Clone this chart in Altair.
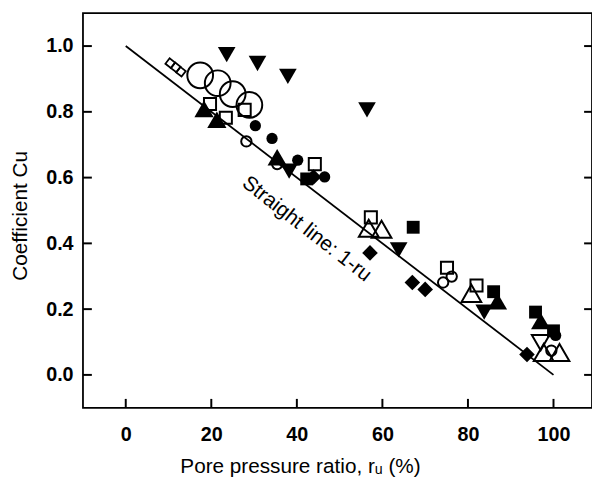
import altair as alt
import pandas as pd

# ---- data ----
fd_tri_x = [23.6, 30.8, 37.9, 56.4, 38.2, 63.8, 83.8]
fd_tri_y = [0.974, 0.947, 0.908, 0.806, 0.620, 0.380, 0.191]

fu_tri_x = [18.3, 21.3, 35.4, 86.9, 97.0]
fu_tri_y = [0.809, 0.776, 0.662, 0.224, 0.164]

ou_tri_x = [56.8, 59.8, 80.8, 97.7, 101.4]
ou_tri_y = [0.446, 0.443, 0.248, 0.068, 0.068]

od_tri_x = [97.0]
od_tri_y = [0.098]

big_circ_x = [17.4, 21.5, 25.0, 28.9]
big_circ_y = [0.911, 0.887, 0.854, 0.821]

small_ocirc_x = [28.2, 35.4, 76.2, 74.2, 99.5]
small_ocirc_y = [0.710, 0.641, 0.299, 0.281, 0.074]

fcirc_x = [30.3, 34.2, 40.2, 46.5, 100.5]
fcirc_y = [0.758, 0.719, 0.653, 0.602, 0.120]

osq_x = [19.7, 23.4, 27.8, 44.2, 57.3, 75.1, 82.0]
osq_y = [0.824, 0.782, 0.806, 0.641, 0.479, 0.326, 0.272]

fsq_x = [42.3, 67.2, 86.0, 95.8, 100.0]
fsq_y = [0.596, 0.449, 0.253, 0.191, 0.134]

fdia_x = [43.9, 57.1, 67.0, 70.0, 93.8]
fdia_y = [0.602, 0.371, 0.281, 0.260, 0.062]

hatch_x = [10.4, 11.7, 12.9]
hatch_y = [0.948, 0.935, 0.922]

line_x = [0, 100]
line_y = [1.0, 0.0]

x_ticks = [0, 20, 40, 60, 80, 100]
y_ticks = [0.0, 0.2, 0.4, 0.6, 0.8, 1.0]

label_text = ["Straight line: 1-ru"]
label_x = [42.3]
label_y = [0.443]

W, H = 516, 400
FONT = "Liberation Sans"

xs = alt.Scale(domain=[-10, 109], nice=False, zero=False)
ys = alt.Scale(domain=[-0.1, 1.1], nice=False, zero=False)

xaxis = alt.Axis(
    values=x_ticks, ticks=False, domain=False, grid=False,
    labelFont=FONT, labelFontSize=20, labelFontWeight="bold", labelColor="black",
    labelPadding=17,
    title="Pore pressure ratio, rᵤ (%)", titleFont=FONT, titleFontSize=21,
    titleFontWeight="normal", titleColor="black", titleX=220, titleY=60,
    titleBaseline="middle",
)
yaxis = alt.Axis(
    values=y_ticks, ticks=False, domain=False, grid=False, format=".1f",
    labelFont=FONT, labelFontSize=20, labelFontWeight="bold", labelColor="black",
    labelPadding=10,
    title="Coefficient Cu", titleFont=FONT, titleFontSize=21,
    titleFontWeight="normal", titleColor="black", titleX=-63, titleY=205,
    titleAngle=270, titleBaseline="middle", titleAlign="center",
)

X = alt.X("x:Q", scale=xs, axis=xaxis)
Y = alt.Y("y:Q", scale=ys, axis=yaxis)


def df(xv, yv):
    return pd.DataFrame({"x": xv, "y": yv})


def pts(xv, yv, shape, filled, size, sw=2.0, angle=0):
    kw = dict(shape=shape, filled=filled, size=size, opacity=1, angle=angle)
    if filled:
        kw.update(color="black", strokeWidth=0)
    else:
        kw.update(color="black", strokeWidth=sw)
    return alt.Chart(df(xv, yv)).mark_point(**kw).encode(x=X, y=Y)


line = alt.Chart(df(line_x, line_y)).mark_line(color="black", strokeWidth=1.8).encode(x=X, y=Y)

tick_y_df = pd.DataFrame({"y": y_ticks})
tick_x_df = pd.DataFrame({"x": x_ticks})
left_ticks = alt.Chart(tick_y_df).mark_rule(color="black", strokeWidth=2).encode(
    y=Y, x=alt.value(0), x2=alt.value(9))
right_ticks = alt.Chart(tick_y_df).mark_rule(color="black", strokeWidth=2).encode(
    y=Y, x=alt.value(W - 8), x2=alt.value(W))
bottom_ticks = alt.Chart(tick_x_df).mark_rule(color="black", strokeWidth=2).encode(
    x=X, y=alt.value(H - 9), y2=alt.value(H))

text = alt.Chart(pd.DataFrame({"x": label_x, "y": label_y, "t": label_text})).mark_text(
    font=FONT, fontSize=21, angle=38, color="black", align="center", baseline="middle"
).encode(x=X, y=Y, text="t:N")

layers = [
    line, left_ticks, right_ticks, bottom_ticks,
    pts(big_circ_x, big_circ_y, "circle", False, 680, 2.0),
    pts(hatch_x, hatch_y, "square", False, 49, 1.8, 38),
    pts(osq_x, osq_y, "square", False, 150, 2.0),
    pts(ou_tri_x, ou_tri_y, "triangle-up", False, 400, 2.0),
    pts(od_tri_x, od_tri_y, "triangle-down", False, 320, 2.0),
    pts(small_ocirc_x, small_ocirc_y, "circle", False, 110, 2.0),
    pts(fd_tri_x, fd_tri_y, "triangle-down", True, 320),
    pts(fu_tri_x, fu_tri_y, "triangle-up", True, 380),
    pts(fcirc_x, fcirc_y, "circle", True, 130),
    pts(fsq_x, fsq_y, "square", True, 170),
    pts(fdia_x, fdia_y, "diamond", True, 250),
    text,
]

chart = alt.layer(*layers).properties(
    width=W, height=H, background="white",
    autosize=alt.AutoSizeParams(type="none"),
    padding={"left": 76, "top": 2, "right": 0, "bottom": 74},
).configure_view(stroke="black", strokeWidth=1.8)

chart.save("out.html", embed_options={"renderer": "svg", "actions": False})
